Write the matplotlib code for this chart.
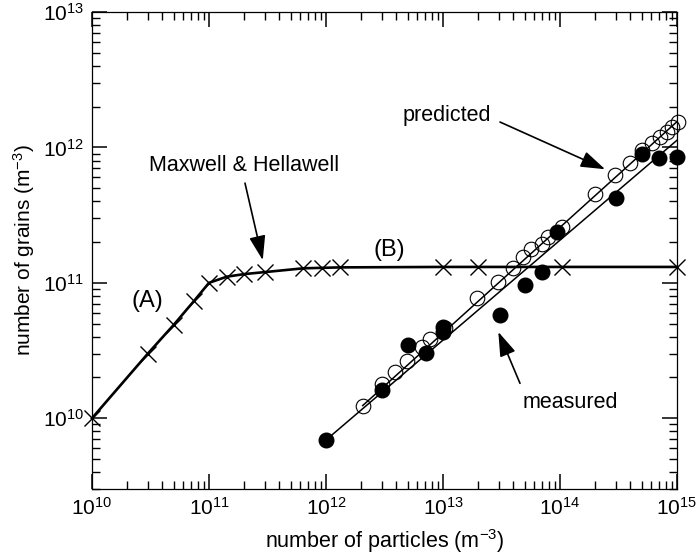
import numpy as np
import matplotlib
matplotlib.use("Agg")
import matplotlib.pyplot as plt

plt.rcParams['font.family'] = ['Liberation Sans', 'DejaVu Sans']
plt.rcParams['mathtext.fontset'] = 'custom'
plt.rcParams['mathtext.rm'] = 'Liberation Sans'
plt.rcParams['mathtext.it'] = 'Liberation Sans:italic'
plt.rcParams['mathtext.bf'] = 'Liberation Sans:bold'

# Maxwell & Hellawell model (crosses)
mh_particles = [1e10, 3e10, 5e10, 7.5e10, 1e11, 1.42e11, 2e11, 3e11, 6.4e11, 9.2e11,
                1.32e12, 1e13, 2e13, 1.03e14, 1e15]
mh_grains = [1e10, 3e10, 4.9e10, 7.4e10, 1e11, 1.11e11, 1.16e11, 1.2e11, 1.28e11, 1.29e11,
             1.3e11, 1.31e11, 1.31e11, 1.31e11, 1.31e11]

# predicted (open circles)
pred_particles = [2.06e12, 3e12, 3.9e12, 4.9e12, 6.6e12, 7.7e12, 1.04e13, 1.94e13, 2.97e13,
                  3.99e13, 4.86e13, 5.7e13, 6.97e13, 7.9e13, 1.03e14, 1.99e14, 2.95e14,
                  4.0e14, 4.99e14, 6.07e14, 7.16e14, 8.2e14, 9e14, 1.02e15]
pred_grains = [1.24e10, 1.78e10, 2.2e10, 2.64e10, 3.36e10, 3.87e10, 4.6e10, 7.66e10, 1.02e11,
               1.28e11, 1.56e11, 1.79e11, 1.95e11, 2.19e11, 2.59e11, 4.5e11, 6.24e11,
               7.7e11, 9.55e11, 1.07e12, 1.2e12, 1.3e12, 1.42e12, 1.55e12]

# measured (filled circles)
meas_particles = [1e12, 3e12, 5.06e12, 7.2e12, 1e13, 1e13, 3.07e13, 5.02e13, 6.98e13,
                  9.4e13, 3.0e14, 5.05e14, 7e14, 1e15]
meas_grains = [6.9e9, 1.61e10, 3.46e10, 3.03e10, 4.3e10, 4.7e10, 5.77e10, 9.6e10, 1.2e11,
               2.38e11, 4.25e11, 9.0e11, 8.4e11, 8.5e11]

# fitted lines (end points)
pred_fit_x = [2.06e12, 1e15]
pred_fit_y = [1.24e10, 1.55e12]
meas_fit_x = [1e12, 1e15]
meas_fit_y = [6.9e9, 1.13e12]

fig = plt.figure(figsize=(6.96, 5.59), dpi=100)
ax = fig.add_axes([0.1322, 0.1252, 0.8405, 0.8533])

ax.plot(mh_particles, mh_grains, color='black', lw=1.9, marker='x', ms=12, mew=1.0,
        clip_on=False, zorder=3)
ax.plot(pred_fit_x, pred_fit_y, color='black', lw=1.1, zorder=2)
ax.plot(meas_fit_x, meas_fit_y, color='black', lw=1.1, zorder=2)
ax.plot(pred_particles, pred_grains, ls='none', marker='o', ms=10.5, mfc='none',
        mec='black', mew=0.8, clip_on=False, zorder=4)
ax.plot(meas_particles, meas_grains, ls='none', marker='o', ms=10.5, mfc='black',
        mec='black', clip_on=False, zorder=5)

ax.set_xscale('log')
ax.set_yscale('log')
ax.set_xlim(1e10, 1e15)
ax.set_ylim(3e9, 1e13)

ax.tick_params(which='both', direction='in', top=True, right=True, labelsize=15)
ax.tick_params(which='major', length=11, width=1.1, pad=6)
ax.tick_params(which='minor', length=6, width=1.0)
for s in ax.spines.values():
    s.set_linewidth(0.9)

ax.set_xlabel('number of particles (m$^{-3}$)', fontsize=15.5, labelpad=6)
ax.set_ylabel('number of grains (m$^{-3}$)', fontsize=15, labelpad=4)

arrow = dict(arrowstyle='-|>,head_length=0.75,head_width=0.25', mutation_scale=20,
             lw=1.2, color='black', shrinkA=0, shrinkB=0)
ax.text(3.1e10, 7.4e11, 'Maxwell & Hellawell', ha='left', va='center', fontsize=15.5)
ax.annotate('', xy=(2.88e11, 1.47e11), xytext=(2.03e11, 5.45e11), arrowprops=arrow)
ax.text(1.08e13, 1.73e12, 'predicted', ha='center', va='center', fontsize=15.5)
ax.annotate('', xy=(2.43e14, 6.9e11), xytext=(3.07e13, 1.54e12), arrowprops=arrow)
ax.annotate('', xy=(2.97e13, 4.34e10), xytext=(4.55e13, 1.81e10), arrowprops=arrow)
ax.text(4.83e13, 1.31e10, 'measured', ha='left', va='center', fontsize=15.5)
ax.text(3.0e10, 7.4e10, '(A)', ha='center', va='center', fontsize=17)
ax.text(3.45e12, 1.74e11, '(B)', ha='center', va='center', fontsize=17)

fig.savefig('out.png', dpi=100)
